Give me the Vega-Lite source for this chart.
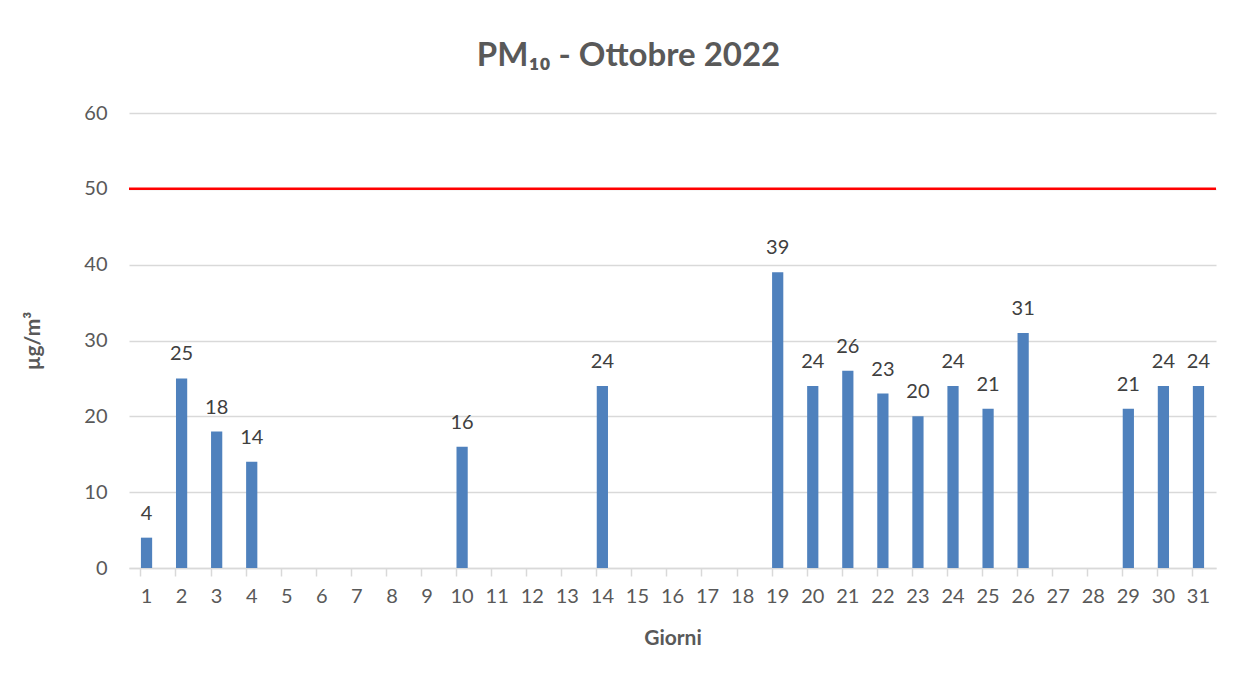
{
  "$schema": "https://vega.github.io/schema/vega-lite/v6.json",
  "autosize": "none",
  "width": 1087,
  "height": 455,
  "padding": {"left": 129, "top": 113, "right": 17, "bottom": 112},
  "background": "white",
  "config": {"view": {"stroke": null}, "font": "Lato"},
  "title": {"text": "PM₁₀ - Ottobre 2022", "font": "Lato", "fontSize": 33, "fontWeight": "bold", "color": "#595959", "anchor": "middle", "dx": -44, "offset": 30},
  "data": {"values": [
    {"giorno": 1, "valore": 4}, {"giorno": 2, "valore": 25}, {"giorno": 3, "valore": 18}, {"giorno": 4, "valore": 14},
    {"giorno": 10, "valore": 16}, {"giorno": 14, "valore": 24}, {"giorno": 19, "valore": 39}, {"giorno": 20, "valore": 24},
    {"giorno": 21, "valore": 26}, {"giorno": 22, "valore": 23}, {"giorno": 23, "valore": 20}, {"giorno": 24, "valore": 24},
    {"giorno": 25, "valore": 21}, {"giorno": 26, "valore": 31}, {"giorno": 29, "valore": 21}, {"giorno": 30, "valore": 24},
    {"giorno": 31, "valore": 24}
  ]},
  "encoding": {
    "x": {"field": "giorno", "type": "ordinal",
      "scale": {"domain": [1,2,3,4,5,6,7,8,9,10,11,12,13,14,15,16,17,18,19,20,21,22,23,24,25,26,27,28,29,30,31], "paddingInner": 0.68, "paddingOuter": 0.34},
      "axis": {"title": "Giorni", "titleFont": "Lato", "titleFontSize": 21, "titleFontWeight": "bold", "titleColor": "#595959", "titlePadding": 21,
        "labelAngle": 0, "labelFont": "Lato", "labelFontSize": 20, "labelColor": "#595959", "labelPadding": 10,
        "bandPosition": 0, "tickSize": 8, "tickColor": "#d9d9d9", "tickWidth": 1.5, "domainColor": "#d9d9d9", "domainWidth": 1.5, "grid": false}},
    "y": {"field": "valore", "type": "quantitative",
      "scale": {"domain": [0, 60]},
      "axis": {"title": "µg/m³", "titleFont": "Lato", "titleFontSize": 21, "titleFontWeight": "bold", "titleColor": "#595959", "titlePadding": 40,
        "values": [0,10,20,30,40,50,60], "labelFont": "Lato", "labelFontSize": 20, "labelColor": "#595959", "labelPadding": 22,
        "ticks": false, "domain": false, "grid": true, "gridColor": "#d9d9d9", "gridWidth": 1.5}}
  },
  "layer": [
    {"mark": {"type": "bar", "color": "#4f81bd"}},
    {"mark": {"type": "text", "baseline": "bottom", "dy": -14, "fontSize": 20, "font": "Lato", "color": "#404040"},
      "encoding": {"text": {"field": "valore", "type": "quantitative"}}},
    {"data": {"values": [{"limite": 50}]},
      "mark": {"type": "rule", "color": "#ff0000", "strokeWidth": 2.5},
      "encoding": {"y": {"field": "limite", "type": "quantitative"}, "x": null}}
  ]
}
